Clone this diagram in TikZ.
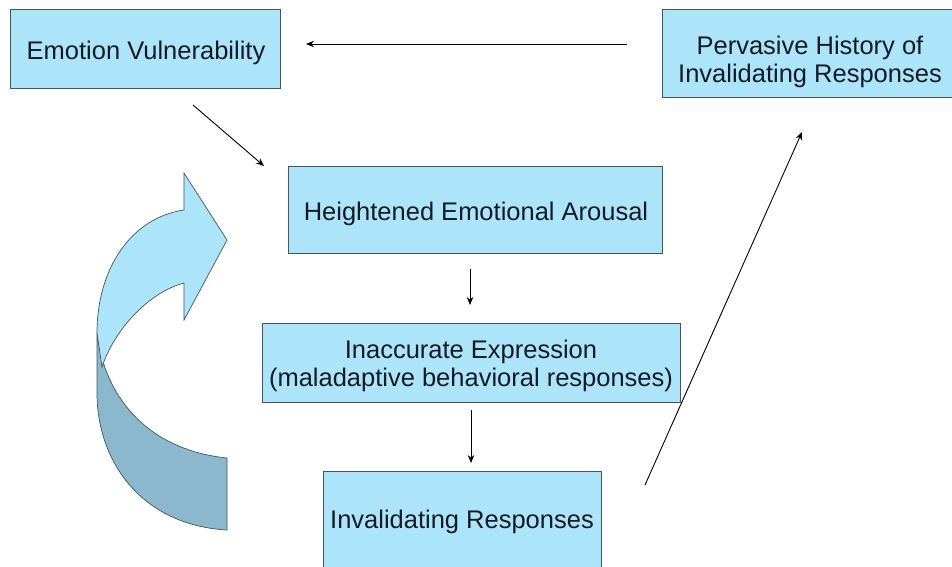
\documentclass[tikz,border=0pt]{standalone}
\usepackage{fontspec}
\setmainfont{Liberation Sans}
\usetikzlibrary{arrows.meta}
\definecolor{boxfill}{RGB}{172,228,250}
\definecolor{boxline}{RGB}{70,84,96}
\definecolor{darkarrow}{RGB}{139,184,204}
\definecolor{txt}{RGB}{22,26,38}
\begin{document}
\begin{tikzpicture}[x=1pt,y=-1pt,
  box/.style={draw=boxline, line width=0.8pt, fill=boxfill, inner sep=0pt},
  lbl/.style={inner sep=0pt, align=center, text=txt, font=\fontsize{25.5}{28}\selectfont},
  arr/.style={draw=black, line width=0.9pt, -{Stealth[length=8pt,width=6.5pt]}}]
\useasboundingbox (0,0) rectangle (952,566);
\fill[white] (0,0) rectangle (952,566);
% curved arrow
\draw[boxline, line width=0.7pt, fill=darkarrow]
  (97,333) .. controls (105,400) and (150,450) .. (227,458)
  -- (227,530) .. controls (140,525) and (97,460) .. (97,393) -- cycle;
\draw[boxline, line width=0.7pt, fill=boxfill]
  (97,333) .. controls (97,270) and (130,218) .. (184,210)
  -- (184,173) -- (227,240) -- (184,320) -- (184,283)
  .. controls (150,292) and (115,328) .. (102,367) -- cycle;
% boxes
\node[box, minimum width=270, minimum height=79] (ev) at (145,48.5) {};
\node[box, minimum width=296, minimum height=88] (ph) at (810,53) {};
\node[box, minimum width=374, minimum height=87] (he) at (475,209.5) {};
\node[box, minimum width=418, minimum height=79] (ie) at (471,362.5) {};
\node[box, minimum width=278, minimum height=104] (ir) at (462,523) {};
% texts
\node[lbl, anchor=base] (evt) at (146,59) {Emotion Vulnerability};
\node[lbl] (pht) at (810,62) {Pervasive History of\\Invalidating Responses};
\node[lbl, anchor=base] (het) at (476,220) {Heightened Emotional Arousal};
\node[lbl] (iet) at (471,365.5) {Inaccurate Expression\\(maladaptive behavioral responses)};
\node[lbl, anchor=base] (irt) at (462,528) {Invalidating Responses};
% connector ends
\coordinate (a1s) at (627,44);  \coordinate (a1e) at (306,44);
\coordinate (a2s) at (193,105); \coordinate (a2e) at (264,166);
\coordinate (a3s) at (470,269); \coordinate (a3e) at (470,305);
\coordinate (a4s) at (471,410); \coordinate (a4e) at (471,463);
\coordinate (a5s) at (645,485); \coordinate (a5e) at (802,132);
\draw[arr] (a1s) -- (a1e);
\draw[arr] (a2s) -- (a2e);
\draw[arr] (a3s) -- (a3e);
\draw[arr] (a4s) -- (a4e);
\draw[arr] (a5s) -- (a5e);
\end{tikzpicture}
\end{document}
